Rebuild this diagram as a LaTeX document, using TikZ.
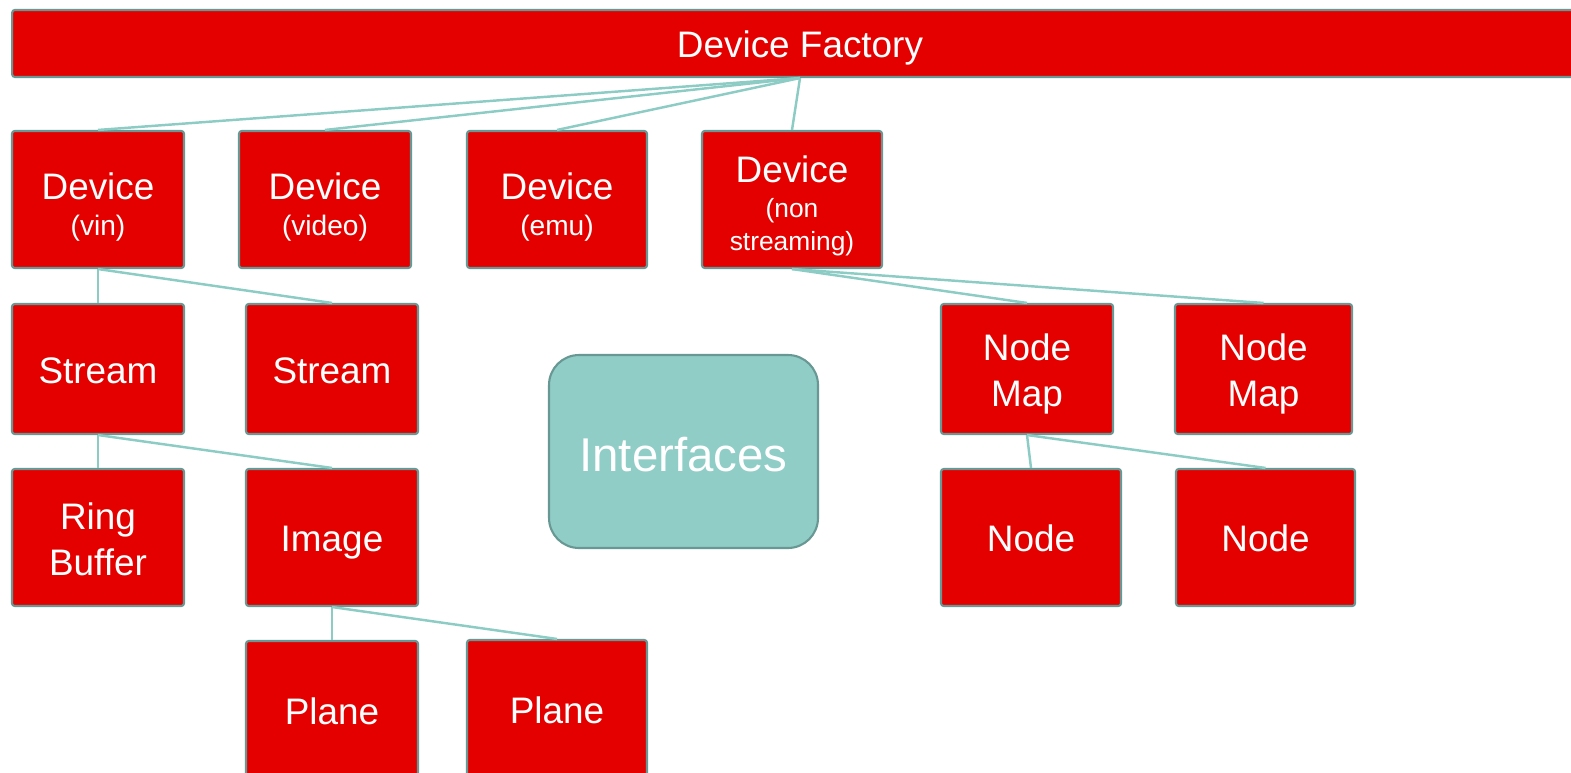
\documentclass[tikz,border=0pt]{standalone}
\usepackage{fontspec}
\setmainfont{Liberation Sans}
\definecolor{boxred}{RGB}{229,0,0}
\definecolor{boxedge}{RGB}{104,152,148}
\definecolor{linkteal}{RGB}{140,204,196}
\definecolor{ifacefill}{RGB}{143,205,198}
\tikzset{
	redbox/.style={draw=boxedge, line width=1.2pt, fill=boxred, rounded corners=1.5pt, text=white, align=center, inner sep=0pt, minimum width=3.44cm, minimum height=2.74cm, text depth=0pt, font=\fontsize{21}{26}\selectfont},
	oneline/.style={redbox, text height=16.5pt},
	ifacebox/.style={draw=boxedge, line width=1.2pt, fill=ifacefill, rounded corners=0.6cm, text=white, inner sep=0pt, minimum width=5.38cm, minimum height=3.86cm, text height=22.7pt, text depth=0pt, font=\fontsize{27}{32}\selectfont},
	link/.style={draw=linkteal, line width=1.4pt}
}
\newcommand{\subtext}[1]{{\fontsize{16}{19}\selectfont #1}}
\newcommand{\tinytext}[1]{{\fontsize{15}{18}\selectfont #1}}

\begin{document}
\begin{tikzpicture}[x=0.02cm, y=-0.02cm]
		%%%%% START %%%%%
		\useasboundingbox (0, 0) rectangle (1571, 773);
		
		\node[oneline, minimum width=31.52cm, minimum height=1.34cm] (fac) at (800, 43.5) {Device Factory};
		
		% devices
		\node[redbox] (dvin) at (98, 199.5) {\rule{0pt}{21pt}Device\\[-5.5pt]\subtext{(vin)}};
		\node[redbox] (dvid) at (325, 199.5) {\rule{0pt}{21pt}Device\\[-5.5pt]\subtext{(video)}};
		\node[redbox, minimum width=3.6cm] (demu) at (557, 199.5) {\rule{0pt}{21pt}Device\\[-5.5pt]\subtext{(emu)}};
		\node[redbox, minimum width=3.6cm] (dnon) at (792, 199.5) {\rule{0pt}{19.5pt}Device\\[-6pt]\tinytext{(non}\\[-7pt]\tinytext{streaming)}};
		
		% streams and node maps
		\node[oneline, minimum height=2.6cm] (st1) at (98, 369) {Stream};
		\node[oneline, minimum height=2.6cm] (st2) at (332, 369) {Stream};
		\node[redbox, minimum height=2.6cm] (nm1) at (1027, 369) {\rule{0pt}{16.7pt}Node\\Map};
		\node[redbox, minimum height=2.6cm, minimum width=3.54cm] (nm2) at (1263.5, 369) {\rule{0pt}{16.7pt}Node\\Map};
		
		\node[ifacebox] (iface) at (683.5, 451.5) {Interfaces};
		
		\node[redbox] (rb) at (98, 537.5) {\rule{0pt}{17.3pt}Ring\\Buffer};
		\node[oneline] (img) at (332, 537.5) {Image};
		\node[oneline, minimum width=3.6cm] (nd1) at (1031, 537.5) {Node};
		\node[oneline, minimum width=3.58cm] (nd2) at (1265.5, 537.5) {Node};
		
		\node[oneline] (pl1) at (332, 709.5) {Plane};
		\node[oneline, minimum width=3.6cm] (pl2) at (557, 708.5) {Plane};
		
		% links
		\draw[link] (fac.south) -- (dvin.north);
		\draw[link] (fac.south) -- (dvid.north);
		\draw[link] (fac.south) -- (demu.north);
		\draw[link] (fac.south) -- (dnon.north);
		\draw[link] (dvin.south) -- (st1.north);
		\draw[link] (dvin.south) -- (st2.north);
		\draw[link] (dnon.south) -- (nm1.north);
		\draw[link] (dnon.south) -- (nm2.north);
		\draw[link] (st1.south) -- (rb.north);
		\draw[link] (st1.south) -- (img.north);
		\draw[link] (nm1.south) -- (nd1.north);
		\draw[link] (nm1.south) -- (nd2.north);
		\draw[link] (img.south) -- (pl1.north);
		\draw[link] (img.south) -- (pl2.north);
		
		%%%%% END %%%%%
	\end{tikzpicture}
\end{document}
